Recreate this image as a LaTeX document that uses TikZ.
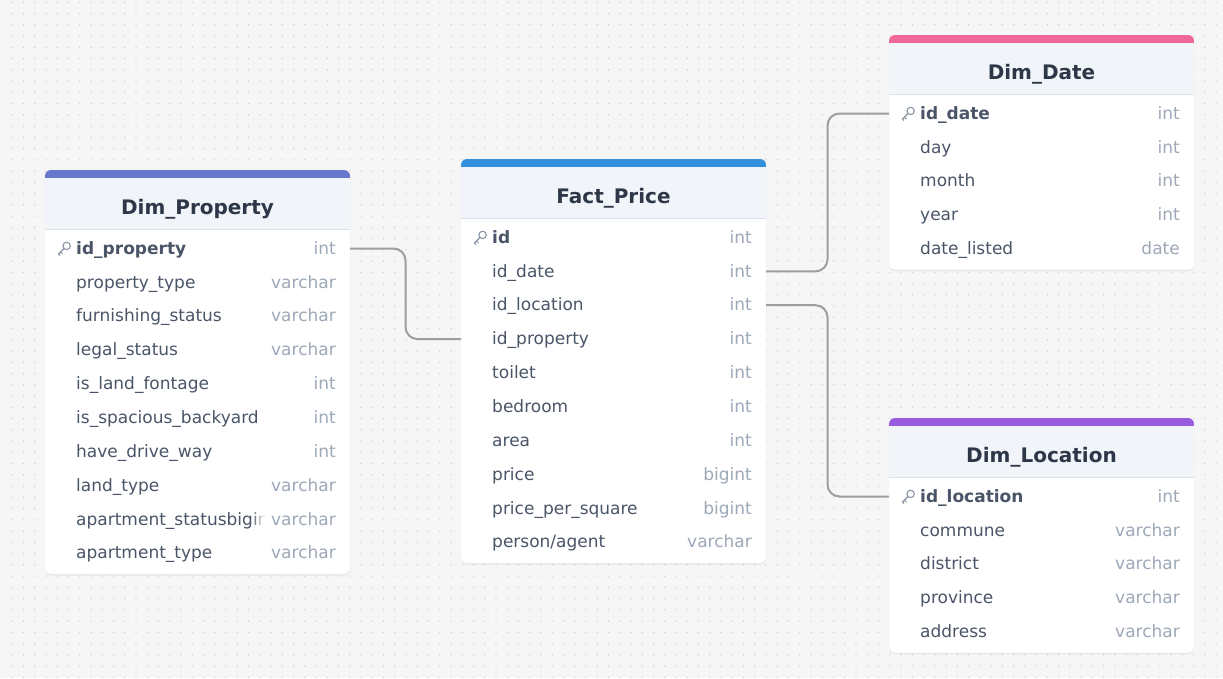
\documentclass[tikz,border=0pt]{standalone}
\usepackage{fontspec}
\setmainfont{DejaVu Sans}
\usetikzlibrary{positioning,calc,fadings,shadows}
\definecolor{canvas}{HTML}{F6F6F6}
\definecolor{dotgray}{HTML}{CDCDCD}
\definecolor{headbg}{HTML}{F1F4F9}
\definecolor{headrule}{HTML}{DCE3EB}
\definecolor{titleink}{HTML}{2D3748}
\definecolor{fieldink}{HTML}{4A5568}
\definecolor{typeink}{HTML}{9DA8B8}
\definecolor{keyink}{HTML}{8A94A6}
\definecolor{linkgray}{HTML}{9E9E9E}
\definecolor{propbar}{HTML}{6677CC}
\definecolor{factbar}{HTML}{3490DC}
\definecolor{datebar}{HTML}{F0689A}
\definecolor{locbar}{HTML}{9A5CDE}

\tikzfading[name=fadein, left color=transparent!100, right color=transparent!0]

\tikzset{
  tablebox/.style={anchor=north west, minimum width=305, inner sep=0, outer sep=0,
    fill=white, draw=black!5, rounded corners=6,
    drop shadow={opacity=0.12, shadow xshift=0pt, shadow yshift=-1.5pt}},
  rowslot/.style={minimum width=305, minimum height=33.85, inner sep=0, outer sep=0},
  tabletitle/.style={font=\fontsize{20}{24}\selectfont\bfseries, text=titleink,
    inner sep=0, text height=15, text depth=0},
  fieldtext/.style={anchor=west, font=\fontsize{17}{20}\selectfont, text=fieldink,
    inner sep=0, text height=12.5, text depth=1},
  keyfield/.style={fieldtext, font=\fontsize{17}{20}\selectfont\bfseries},
  typetext/.style={anchor=east, font=\fontsize{17}{20}\selectfont, text=typeink,
    inner sep=0, text height=12.5, text depth=1},
  link/.style={draw=linkgray, line width=2, rounded corners=12},
}

% key glyph for primary key rows
\newcommand{\keyicon}[1]{%
  \begin{scope}[shift={#1}, keyink, line width=1.1, line cap=round, line join=round]
    \draw (2.6,-2.6) circle (3.7);
    \draw (0,0) -- (-5.6,5.6) (-3.6,3.6) -- (-1.8,5.4) (-5.6,5.6) -- (-4.2,7);
  \end{scope}}

% one table: name, position, bar colour, title, number of rows, rows
\newcommand{\ertable}[6]{%
  \node[tablebox, minimum height={65.5+#5*33.85}] (#1) at #2 {};
  \begin{scope}
    \clip[rounded corners=6] (#1.north west) rectangle (#1.south east);
    \fill[#3] (#1.north west) rectangle ($(#1.north east)+(0,8)$);
    \fill[headbg] ($(#1.north west)+(0,8)$) rectangle ($(#1.north east)+(0,59)$);
    \draw[headrule, line width=1] ($(#1.north west)+(0,59)$) -- ($(#1.north east)+(0,59)$);
  \end{scope}
  \node[tabletitle] (#1-title) at ($(#1.north)+(0,37)$) {#4};
  \foreach \fname/\ftype [count=\i] in {#6} {
    \pgfmathsetmacro{\rowy}{78.5+(\i-1)*33.85}
    \node[rowslot] (#1-\i) at ($(#1.north)+(0,\rowy)$) {};
    \node[typetext] (#1-\i-type) at ($(#1-\i.east)+(-14,0)$) {\ftype};
    \begin{scope}
      \clip (#1-\i.north west) rectangle ($(#1-\i-type.west |- #1-\i.south)+(-6,0)$);
      \ifnum\i=1
        \node[keyfield] (#1-\i-name) at ($(#1-\i.west)+(31,0)$) {\fname};
      \else
        \node[fieldtext] (#1-\i-name) at ($(#1-\i.west)+(31,0)$) {\fname};
      \fi
    \end{scope}
    \fill[white, path fading=fadein] ($(#1-\i-type.west |- #1-\i.north)+(-20,0)$)
      rectangle ($(#1-\i-type.west |- #1-\i.south)+(-6,0)$);
    \ifnum\i=1 \keyicon{($(#1-\i.west)+(19,0)$)}\fi
  }
}

\begin{document}
\begin{tikzpicture}[x=1pt, y=-1pt]
  \useasboundingbox (0,0) rectangle (1223,678);
  \fill[canvas] (0,0) rectangle (1223,678);
  \foreach \gx in {0,...,108}
    \foreach \gy in {0,...,60}
      \fill[dotgray] ({12.3+\gx*11.25}, {2.3+\gy*11.25}) circle (0.75);

  \ertable{prop}{(45,170)}{propbar}{Dim\_Property}{10}{%
    id\_property/int, property\_type/varchar, furnishing\_status/varchar,
    legal\_status/varchar, is\_land\_fontage/int, is\_spacious\_backyard/int,
    have\_drive\_way/int, land\_type/varchar, apartment\_statusbigint/varchar,
    apartment\_type/varchar}
  \ertable{fact}{(461,159)}{factbar}{Fact\_Price}{10}{%
    id/int, id\_date/int, id\_location/int, id\_property/int, toilet/int,
    bedroom/int, area/int, price/bigint, price\_per\_square/bigint,
    {person/agent}/varchar}
  \ertable{date}{(889,35)}{datebar}{Dim\_Date}{5}{%
    id\_date/int, day/int, month/int, year/int, date\_listed/date}
  \ertable{loc}{(889,418)}{locbar}{Dim\_Location}{5}{%
    id\_location/int, commune/varchar, district/varchar, province/varchar,
    address/varchar}

  % relationships
  \draw[link] (prop-1.east) -| ($(prop-1.east)!.5!(fact-4.west)$) |- (fact-4.west);
  \draw[link] (fact-2.east) -| ($(fact-2.east)!.5!(date-1.west)$) |- (date-1.west);
  \draw[link] (fact-3.east) -| ($(fact-3.east)!.5!(loc-1.west)$) |- (loc-1.west);
\end{tikzpicture}
\end{document}
